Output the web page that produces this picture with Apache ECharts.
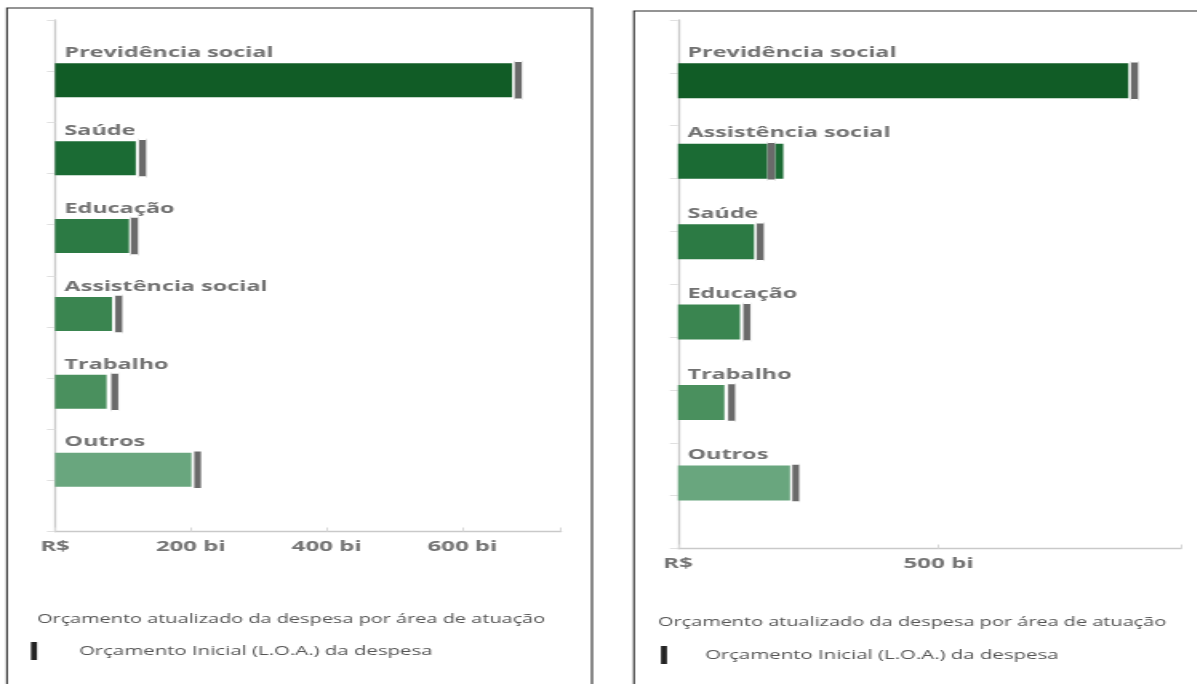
<!DOCTYPE html>
<html><head><meta charset="utf-8">
<script src="https://cdn.jsdelivr.net/npm/echarts@6/dist/echarts.min.js"></script>
<style>
html,body{margin:0;padding:0;background:#fff;overflow:hidden}
#wrap{width:1197px;height:684px;overflow:hidden;position:relative;background:#fff}
#chart{width:748.125px;height:684px;transform:scaleX(1.6);transform-origin:0 0}
</style></head>
<body><div id="wrap"><div id="chart"></div></div>
<script>
// ---- data ----
const leftCategories = ['Previdência social', 'Saúde', 'Educação', 'Assistência social', 'Trabalho', 'Outros'];
const leftUpdated = [673, 119, 109, 84, 76, 201];
const leftInitial = [682, 129, 117, 94, 88, 210];
const leftTicks = ['R$', '200 bi', '400 bi', '600 bi'];

const rightCategories = ['Previdência social', 'Assistência social', 'Saúde', 'Educação', 'Trabalho', 'Outros'];
const rightUpdated = [864, 202, 146, 119, 89, 215];
const rightInitial = [876, 179, 158, 132, 103, 226];
const rightTicks = ['R$', '500 bi'];

const legendUpdated = 'Orçamento atualizado da despesa por área de atuação';
const legendInitial = 'Orçamento Inicial (L.O.A.) da despesa';

// ---- styling / layout ----
const S = 1.6; // horizontal stretch of the reference
const X = v => v / S;
const barColors = ['#115c26', '#1b6b34', '#2c7a44', '#3a8550', '#4a905e', '#69a67e'];
const FONT = '"Open Sans", "Noto Sans", sans-serif';

function panel(p) {
  const gi = p.gridBase;
  const grids = [
    { left: X(p.x0), width: X(p.x1 - p.x0), top: 20, height: p.axisY - 20 },
    { left: X(p.x0), width: X(p.x1 - p.x0), top: p.bandTop, height: p.bandBottom - p.bandTop }
  ];
  const xAxes = [
    { gridIndex: gi, type: 'value', position: 'bottom', min: 0, max: p.max, interval: p.interval,
      axisLine: { show: true, onZero: false, lineStyle: { color: '#c9c9c9', width: 1.3 } },
      axisTick: { show: true, inside: true, length: 4, lineStyle: { color: '#d8d8d8' } },
      splitLine: { show: false },
      axisLabel: { margin: 8, color: '#747474', fontFamily: FONT, fontWeight: 'bold', fontSize: 15,
        formatter: v => (v % p.interval === 0 ? (p.ticks[v / p.interval] || '') : '') } },
    { gridIndex: gi + 1, type: 'value', min: 0, max: p.max, show: false }
  ];
  const yAxes = [
    { gridIndex: gi, type: 'value', position: 'left', min: 0, max: 10, interval: 1, inverse: true,
      axisLine: { show: true, onZero: false, lineStyle: { color: '#c9c9c9', width: 1.3 } },
      axisTick: { show: true, length: 5, lineStyle: { color: '#e0e0e0' } },
      axisLabel: { show: false }, splitLine: { show: false } },
    { gridIndex: gi + 1, type: 'category', inverse: true, data: p.categories, show: false }
  ];
  const series = [
    { type: 'bar', xAxisIndex: gi + 1, yAxisIndex: gi + 1, barWidth: p.barH, z: 2,
      data: p.updated.map((v, i) => ({ value: v, itemStyle: { color: barColors[i] } })),
      label: { show: true, formatter: '{b}', position: [X(9.5), -3], align: 'left', verticalAlign: 'bottom',
        color: '#727272', fontFamily: FONT, fontWeight: 'bold', fontSize: 14.6 },
      silent: true, animation: false },
    { type: 'scatter', xAxisIndex: gi + 1, yAxisIndex: gi + 1, z: 3,
      data: p.initial.map((v, i) => [v, i]),
      symbol: 'rect', symbolSize: [X(7.5), 39],
      itemStyle: { color: '#6a6a6a', borderColor: '#ffffff', borderWidth: 0.9, opacity: 1 },
      silent: true, animation: false }
  ];
  return { grids, xAxes, yAxes, series };
}

const L = panel({ gridBase: 0, x0: 55, x1: 561, axisY: 531.5, bandTop: 41.3, bandBottom: 508.7, barH: 34,
  max: 745, interval: 200, ticks: leftTicks, categories: leftCategories, updated: leftUpdated, initial: leftInitial });
const R = panel({ gridBase: 2, x0: 678, x1: 1181, axisY: 548.5, bandTop: 40.6, bandBottom: 523.2, barH: 35,
  max: 965, interval: 500, ticks: rightTicks, categories: rightCategories, updated: rightUpdated, initial: rightInitial });

const legendText = (x, y, t, fs) => ({ type: 'text', x: X(x), y: y,
  style: { text: t, fill: '#555', font: fs + 'px ' + FONT, textVerticalAlign: 'middle' }, silent: true });

const graphic = [
  { type: 'rect', shape: { x: X(7), y: 8, width: X(585), height: 720 },
    style: { fill: 'none', stroke: '#2b2b2b', lineWidth: 1.1 }, silent: true },
  { type: 'rect', shape: { x: X(634), y: 11, width: X(600), height: 720 },
    style: { fill: 'none', stroke: '#2b2b2b', lineWidth: 1.1 }, silent: true },
  legendText(37, 619, legendUpdated, 12.45),
  { type: 'rect', shape: { x: X(31), y: 642, width: X(6), height: 18 }, style: { fill: '#222' }, silent: true },
  legendText(79, 651, legendInitial, 12.75),
  legendText(658, 622, legendUpdated, 12.45),
  { type: 'rect', shape: { x: X(661), y: 646, width: X(6), height: 18 }, style: { fill: '#222' }, silent: true },
  legendText(705, 655, legendInitial, 12.75)
];

const chart = echarts.init(document.getElementById('chart'), null, { renderer: 'canvas' });
chart.setOption({
  animation: false,
  backgroundColor: '#ffffff',
  grid: [...L.grids, ...R.grids],
  xAxis: [...L.xAxes, ...R.xAxes],
  yAxis: [...L.yAxes, ...R.yAxes],
  series: [...L.series, ...R.series],
  graphic: graphic
});
</script>
</body></html>
